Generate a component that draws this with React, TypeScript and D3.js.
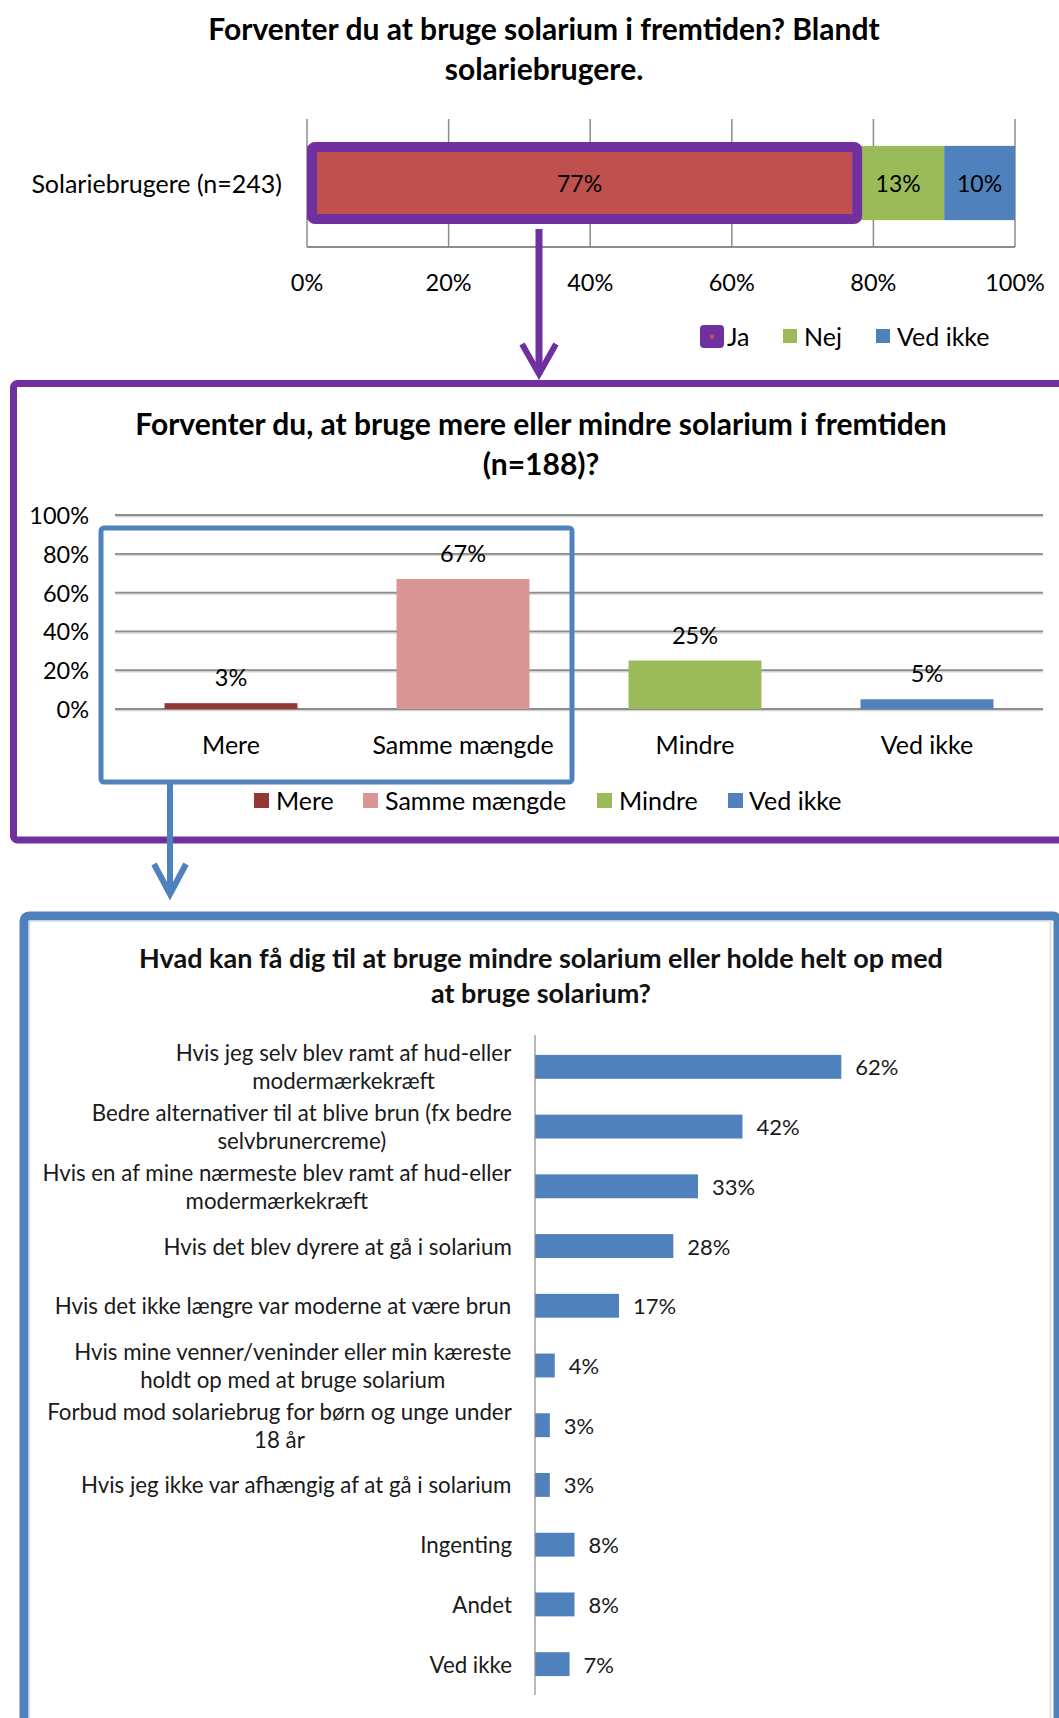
import React from 'react';
import * as d3 from 'd3';

// ---------- DATA ----------
const topTitle = ['Forventer du at bruge solarium i fremtiden? Blandt', 'solariebrugere.'];
const topCategories = ['Solariebrugere (n=243)'];
const topSeries = ['Ja', 'Nej', 'Ved ikke'];
const topValues = [77, 13, 10];
const topTicks = [0, 20, 40, 60, 80, 100];

const midTitle = ['Forventer du, at bruge mere eller mindre solarium i fremtiden', '(n=188)?'];
const midCategories = ['Mere', 'Samme mængde', 'Mindre', 'Ved ikke'];
const midValues = [3, 67, 25, 5];
const midTicks = [0, 20, 40, 60, 80, 100];

const botTitle = ['Hvad kan få dig til at bruge mindre solarium eller holde helt op med', 'at bruge solarium?'];
const botCategories = [
  ['Hvis jeg selv blev ramt af hud-eller', 'modermærkekræft'],
  ['Bedre alternativer til at blive brun (fx bedre', 'selvbrunercreme)'],
  ['Hvis en af mine nærmeste blev ramt af hud-eller', 'modermærkekræft'],
  ['Hvis det blev dyrere at gå i solarium'],
  ['Hvis det ikke længre var moderne at være brun'],
  ['Hvis mine venner/veninder eller min kæreste', 'holdt op med at bruge solarium'],
  ['Forbud mod solariebrug for børn og unge under', '18 år'],
  ['Hvis jeg ikke var afhængig af at gå i solarium'],
  ['Ingenting'],
  ['Andet'],
  ['Ved ikke'],
];
const botValues = [62, 42, 33, 28, 17, 4, 3, 3, 8, 8, 7];

// ---------- STYLE ----------
const FONT = 'Lato, "Open Sans", sans-serif';
const PURPLE = '#7030A0';
const BLUE = '#4F81BD';
const topColors = ['#C0504D', '#9BBB59', '#4F81BD'];
const midColors = ['#953735', '#D99694', '#9BBB59', '#4F81BD'];
const BOT_LABEL_SIZE = 22.3;

let measureCtx: CanvasRenderingContext2D | null = null;
function measure(text: string, size: number): number {
  if (!measureCtx) {
    const c = document.createElement('canvas');
    measureCtx = c.getContext('2d');
  }
  if (!measureCtx) return text.length * size * 0.45;
  measureCtx.font = `${size}px Lato, "Open Sans", sans-serif`;
  return measureCtx.measureText(text).width;
}

export default function App() {
  // ---- top chart ----
  const tx = d3.scaleLinear().domain([0, 100]).range([307, 1015]);
  const ty = d3.scaleBand().domain(topCategories).range([119, 247]).paddingInner(0.42).paddingOuter(0.21);
  const cum = d3.cumsum(topValues);
  const topSegs = topValues.map((v, i) => ({ name: topSeries[i], v, x0: cum[i] - v, x1: cum[i], color: topColors[i] }));
  const tBandY = ty(topCategories[0]) as number;
  const tBandH = ty.bandwidth();

  // ---- middle chart ----
  const my = d3.scaleLinear().domain([0, 100]).range([709, 515]);
  const mx = d3.scaleBand().domain(midCategories).range([115, 1043]).paddingInner(0.427).paddingOuter(0.2135);

  // ---- bottom chart ----
  const bx = d3.scaleLinear().domain([0, 100]).range([535, 1029]);
  const by = d3.scaleBand<number>().domain(d3.range(botCategories.length)).range([1037, 1694]).paddingInner(0.6).paddingOuter(0.3);

  const topLegend = [
    { label: 'Ja', x: 700, w: 24, textX: 727 },
    { label: 'Nej', x: 783, w: 14, textX: 804 },
    { label: 'Ved ikke', x: 876, w: 14, textX: 897 },
  ];
  const midLegend = [
    { x: 254, textX: 276 },
    { x: 363, textX: 385 },
    { x: 597, textX: 619 },
    { x: 728, textX: 749 },
  ];

  return (
    <div style={{ position: 'absolute', left: 0, top: 0 }}>
      <svg width={1059} height={1718} style={{ display: 'block', fontFamily: FONT }}>
        <rect x={0} y={0} width={1059} height={1718} fill="#fff" />

        {/* ===== TOP CHART ===== */}
        {topTitle.map((t, i) => (
          <text key={i} x={544} y={28 + i * 40} textAnchor="middle" dominantBaseline="central" fontSize={30} fontWeight={700} fill="#000">{t}</text>
        ))}
        {topTicks.map((t) => (
          <line key={t} x1={tx(t)} x2={tx(t)} y1={119} y2={247} stroke="#8c8c8c" strokeWidth={1.5} />
        ))}
        <line x1={tx(0)} x2={tx(100)} y1={247} y2={247} stroke="#8c8c8c" strokeWidth={2} />
        {topSegs.map((s) => (
          <rect key={s.name} x={tx(s.x0)} width={tx(s.x1) - tx(s.x0)} y={tBandY} height={tBandH} fill={s.color} />
        ))}
        {/* purple highlight around "Ja" segment */}
        <rect x={tx(topSegs[0].x0) + 5} y={tBandY + 1} width={tx(topSegs[0].x1) - tx(topSegs[0].x0)} height={tBandH - 2} rx={3}
          fill="none" stroke={PURPLE} strokeWidth={10} />
        {topSegs.map((s) => (
          <text key={s.name} x={(tx(s.x0) + tx(s.x1)) / 2} y={tBandY + tBandH / 2} textAnchor="middle" dominantBaseline="central" fontSize={23} fill="#000">{s.v}%</text>
        ))}
        <text x={282} y={tBandY + tBandH / 2} textAnchor="end" dominantBaseline="central" fontSize={25} fill="#000">{topCategories[0]}</text>
        {topTicks.map((t) => (
          <text key={t} x={tx(t)} y={282} textAnchor="middle" dominantBaseline="central" fontSize={23.5} fill="#000">{t}%</text>
        ))}
        {topLegend.map((l, i) => (
          <g key={l.label}>
            {i === 0 ? (
              <g>
                <rect x={l.x} y={325} width={l.w} height={23} rx={4} fill={PURPLE} />
                <rect x={l.x + l.w / 2 - 2} y={334.5} width={4} height={4} fill={topColors[0]} />
              </g>
            ) : (
              <rect x={l.x} y={329} width={l.w} height={14} fill={topColors[i]} />
            )}
            <text x={l.textX} y={336} dominantBaseline="central" fontSize={25} fill="#000">{l.label}</text>
          </g>
        ))}
        {/* purple arrow */}
        <line x1={539} x2={539} y1={229} y2={374} stroke={PURPLE} strokeWidth={7} />
        <polyline points="522,344 539,374 556,344" fill="none" stroke={PURPLE} strokeWidth={6} strokeLinejoin="miter" />

        {/* ===== MIDDLE CHART ===== */}
        <rect x={13.5} y={383.5} width={1100} height={456.5} rx={4} fill="none" stroke={PURPLE} strokeWidth={7} />
        {midTitle.map((t, i) => (
          <text key={i} x={541} y={423 + i * 40} textAnchor="middle" dominantBaseline="central" fontSize={30} fontWeight={700} fill="#000">{t}</text>
        ))}
        {midTicks.map((t) => (
          <g key={t}>
            <line x1={115} x2={1043} y1={my(t) + 1.5} y2={my(t) + 1.5} stroke="#d4d4d4" strokeWidth={1.5} />
            <line x1={115} x2={1043} y1={my(t)} y2={my(t)} stroke="#8c8c8c" strokeWidth={1.8} />
            <text x={89} y={my(t)} textAnchor="end" dominantBaseline="central" fontSize={23.5} fill="#000">{t}%</text>
          </g>
        ))}
        {midCategories.map((c, i) => (
          <g key={c}>
            <rect x={mx(c)} y={my(midValues[i])} width={mx.bandwidth()} height={my(0) - my(midValues[i])} fill={midColors[i]} />
            <text x={(mx(c) as number) + mx.bandwidth() / 2} y={my(midValues[i]) - 26} textAnchor="middle" dominantBaseline="central" fontSize={23.5} fill="#000">{midValues[i]}%</text>
            <text x={(mx(c) as number) + mx.bandwidth() / 2} y={744} textAnchor="middle" dominantBaseline="central" fontSize={25} fill="#000">{c}</text>
          </g>
        ))}
        {midCategories.map((c, i) => (
          <g key={'lg' + c}>
            <rect x={midLegend[i].x} y={793} width={15} height={15} fill={midColors[i]} />
            <text x={midLegend[i].textX} y={800} dominantBaseline="central" fontSize={25} fill="#000">{c}</text>
          </g>
        ))}
        {/* blue highlight box */}
        <rect x={101} y={528} width={471} height={254} rx={3} fill="none" stroke={BLUE} strokeWidth={5} />
        {/* blue arrow */}
        <line x1={170} x2={170} y1={782} y2={894} stroke={BLUE} strokeWidth={6} />
        <polyline points="154,864 170,894 186,864" fill="none" stroke={BLUE} strokeWidth={6} />

        {/* ===== BOTTOM CHART ===== */}
        <rect x={24} y={916} width={1034} height={900} rx={5} fill="none" stroke={BLUE} strokeWidth={9} />
        <rect x={29.5} y={921} width={1021} height={900} fill="none" stroke="#d9d9d9" strokeWidth={1.5} />
        {botTitle.map((t, i) => (
          <text key={i} x={541} y={957 + i * 35} textAnchor="middle" dominantBaseline="central" fontSize={27} fontWeight={700} fill="#111">{t}</text>
        ))}
        {botCategories.map((lines, i) => {
          const cy = (by(i) as number) + by.bandwidth() / 2;
          const maxW = d3.max(lines, (ln) => measure(ln, BOT_LABEL_SIZE)) as number;
          const cx = 512 - maxW / 2;
          return (
            <g key={i}>
              <rect x={bx(0)} y={by(i)} width={bx(botValues[i]) - bx(0)} height={by.bandwidth()} fill={BLUE} />
              <text x={bx(botValues[i]) + 14} y={cy} dominantBaseline="central" fontSize={22} fill="#1a1a1a">{botValues[i]}%</text>
              {lines.map((ln, j) => (
                <text key={j} x={cx} y={cy + (j - (lines.length - 1) / 2) * 28} textAnchor="middle" dominantBaseline="central" fontSize={BOT_LABEL_SIZE} fill="#1a1a1a">{ln}</text>
              ))}
            </g>
          );
        })}
        <line x1={bx(0)} x2={bx(0)} y1={1035} y2={1695} stroke="#8c8c8c" strokeWidth={1.2} />
      </svg>
    </div>
  );
}
